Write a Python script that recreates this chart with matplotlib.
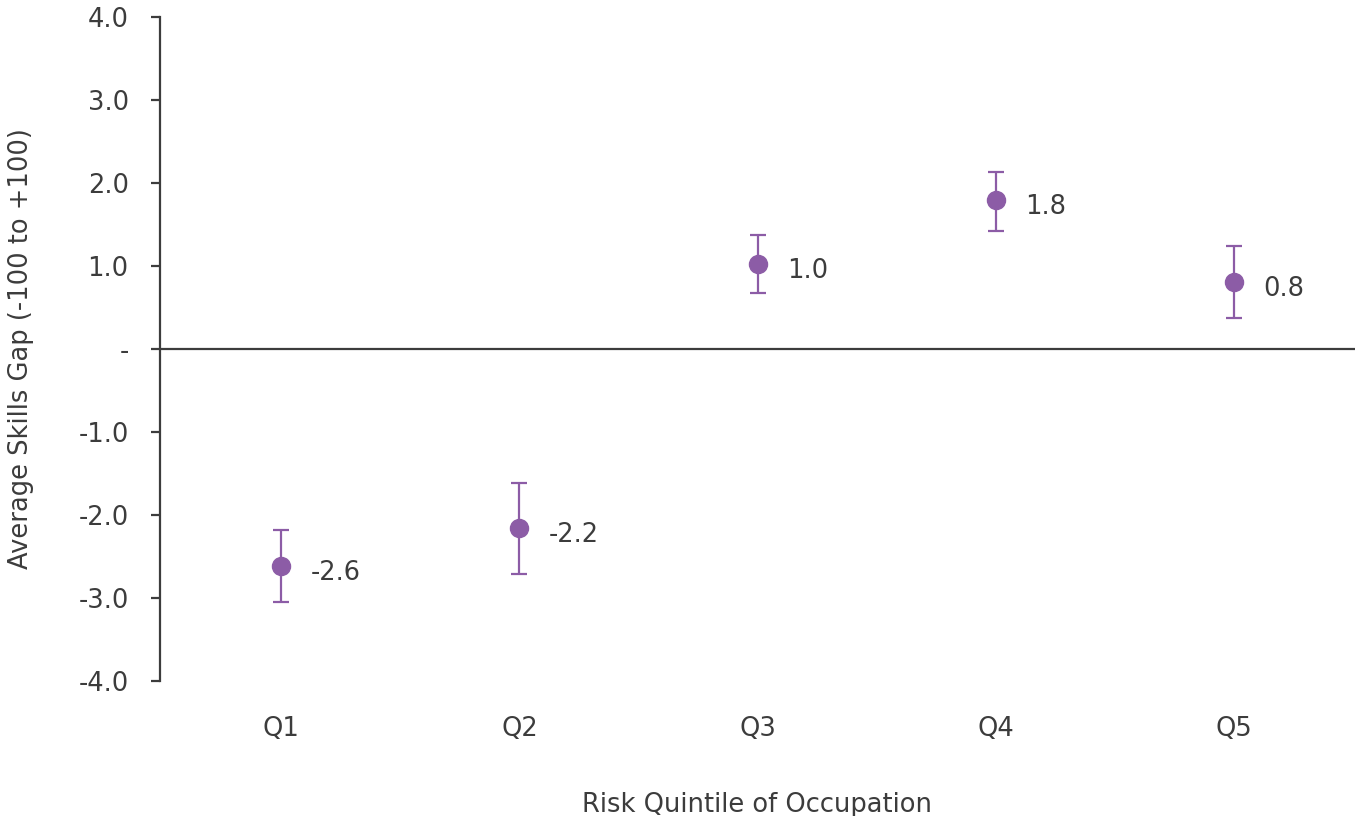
import matplotlib
matplotlib.use("Agg")
import matplotlib.pyplot as plt

categories = ["Q1", "Q2", "Q3", "Q4", "Q5"]
values = [-2.61, -2.16, 1.02, 1.80, 0.81]
err_low = [-3.05, -2.71, 0.67, 1.42, 0.37]
err_high = [-2.18, -1.61, 1.37, 2.13, 1.24]
value_labels = ["-2.6", "-2.2", "1.0", "1.8", "0.8"]
yticks = [-4.0, -3.0, -2.0, -1.0, 0.0, 1.0, 2.0, 3.0, 4.0]
ytick_labels = ["-4.0", "-3.0", "-2.0", "-1.0", "-", "1.0", "2.0", "3.0", "4.0"]

plt.rcParams['font.family'] = ['DejaVu Sans']
purple = "#8c5ca6"
dark = "#3c3c3c"
fs = 18.5

fig = plt.figure(figsize=(13.62, 8.16), dpi=100)
ax = fig.add_axes([160/1362, 1-681/816, (1355-160)/1362, (681-17)/816])

x = list(range(len(categories)))
yerr = [[v - l for v, l in zip(values, err_low)], [h - v for v, h in zip(values, err_high)]]
ax.errorbar(x, values, yerr=yerr, fmt='o', color=purple, ecolor=purple,
            markersize=13, elinewidth=1.6, capsize=6, capthick=1.6, zorder=3)

for xi, v, lab in zip(x, values, value_labels):
    ax.annotate(lab, (xi, v), xytext=(21, -5), textcoords='offset points',
                ha='left', va='center', fontsize=fs, color=dark)

ax.axhline(0, color=dark, lw=1.6, zorder=1)
ax.set_xlim(-0.51, 4.51)
ax.set_ylim(-4.0, 4.0)
ax.set_yticks(yticks)
ax.set_yticklabels(ytick_labels)
ax.set_xticks(x)
ax.set_xticklabels(categories)

for s in ["top", "right", "bottom"]:
    ax.spines[s].set_visible(False)
ax.spines["left"].set_color(dark)
ax.spines["left"].set_linewidth(1.6)
ax.tick_params(axis='y', direction='out', length=6.5, width=1.6, color=dark,
               labelsize=fs, labelcolor=dark, pad=16)
ax.tick_params(axis='x', length=0, labelsize=fs, labelcolor=dark, pad=25)

ax.set_xlabel("Risk Quintile of Occupation", fontsize=fs, color=dark, labelpad=36)
ax.set_ylabel("Average Skills Gap (-100 to +100)", fontsize=fs, color=dark, labelpad=32)

fig.savefig("out.png", dpi=100)
